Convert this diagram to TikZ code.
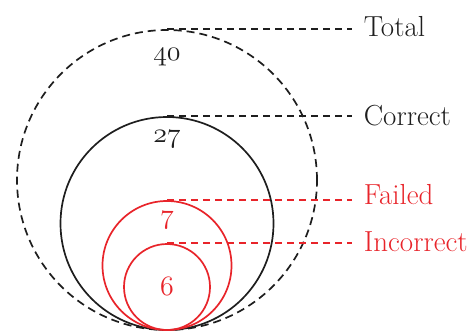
\RequirePackage{fix-cm}
\documentclass[tikz,border=0pt]{standalone}
\definecolor{myred}{RGB}{232,36,42}
\definecolor{myblack}{RGB}{30,30,30}
\begin{document}
\begin{tikzpicture}[x=1pt,y=-1pt,line width=1.7pt,
  ring/.style={circle,draw,inner sep=0pt},
  guide/.style={dash pattern=on 7pt off 5pt,line width=1.6pt},
  lab/.style={anchor=base west,inner sep=0pt,font=\fontsize{29}{32}\selectfont},
  num/.style={anchor=base,inner sep=0pt,font=\fontsize{28}{31}\selectfont}]
\useasboundingbox (0,0) rectangle (472,332);
% circles
\node[ring,myblack,dash pattern=on 8pt off 5pt,minimum size=300pt] (total) at (167,180) {};
\node[ring,myblack,minimum size=213pt] (correct) at (167,223.5) {};
\node[ring,myred,minimum size=129pt] (failed) at (167,265.5) {};
\node[ring,myred,minimum size=86pt] (incorrect) at (167,287) {};
% numbers
\node[num,myblack] (n40) at (167,60) {$\mathnormal{40}$};
\node[num,myblack] (n27) at (167,142) {$\mathnormal{27}$};
\node[num,myred] (n7) at (167,223) {$\mathnormal{7}$};
\node[num,myred] (n6) at (167,295) {$\mathnormal{6}$};
% labels
\node[lab,myblack] (ltotal) at (363,36) {Total};
\node[lab,myblack] (lcorrect) at (363,125) {Correct};
\node[lab,myred] (lfailed) at (363,204) {Failed};
\node[lab,myred] (lincorrect) at (363,251) {Incorrect};
% guide line ends
\coordinate (etotal) at (352,30);
\coordinate (ecorrect) at (352,117);
\coordinate (efailed) at (352,201);
\coordinate (eincorrect) at (352,244);
\draw[guide,myblack] (total.north) -- (etotal |- total.north);
\draw[guide,myblack] (correct.north) -- (ecorrect |- correct.north);
\draw[guide,myred] (failed.north) -- (efailed |- failed.north);
\draw[guide,myred] (incorrect.north) -- (eincorrect |- incorrect.north);
\end{tikzpicture}
\end{document}
